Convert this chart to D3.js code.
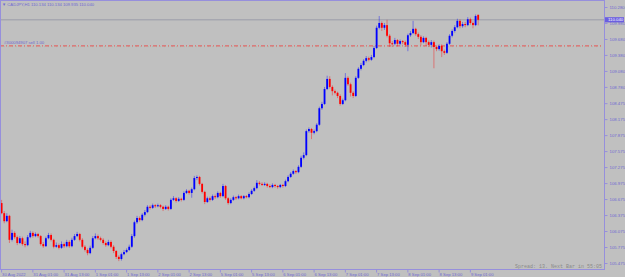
<!DOCTYPE html>
<html lang="en">
<head>
<meta charset="UTF-8">
<title>CADJPY,H1</title>
<style>
  * { margin: 0; padding: 0; }
  body { background: #c0c0c0; }
  svg { display: block; background: #c0c0c0; }
  text { font-family: "Liberation Sans", Arial, sans-serif; }
</style>
<script src="https://cdn.jsdelivr.net/npm/d3@7/dist/d3.min.js"></script>
</head>
<body>
<div id="chart"></div>
<script>
// CADJPY H1, 30 Aug 2022 13:00 .. 9 Sep 2022
var opens = [106.60,106.41,106.26,106.36,105.91,106.04,105.96,105.85,105.94,105.83,
  105.81,105.96,106.04,105.98,106.02,105.98,105.83,105.79,105.94,106.00,
  105.91,105.78,105.81,105.76,105.83,105.79,105.87,105.79,105.91,105.98,
  106.02,105.91,105.78,105.72,105.66,105.76,105.94,105.98,105.94,105.91,
  105.85,105.81,105.87,105.78,105.70,105.59,105.55,105.64,105.68,105.72,
  105.78,105.98,106.24,106.32,106.28,106.38,106.43,106.53,106.51,106.56,
  106.54,106.56,106.53,106.49,106.53,106.49,106.66,106.69,106.64,106.68,
  106.66,106.79,106.83,106.79,106.86,107.07,107.09,106.96,106.81,106.62,
  106.69,106.66,106.73,106.71,106.79,106.73,106.92,106.69,106.60,106.66,
  106.71,106.69,106.73,106.69,106.73,106.71,106.77,106.83,106.88,106.98,
  106.96,106.94,106.96,106.92,106.90,106.94,106.92,106.90,106.94,106.92,
  107.01,107.09,107.15,107.20,107.18,107.28,107.45,107.50,107.95,107.99,
  107.92,107.95,108.07,108.38,108.46,108.74,108.93,108.78,108.70,108.67,
  108.61,108.46,108.53,108.95,108.83,108.67,108.61,108.95,109.12,109.19,
  109.27,109.32,109.29,109.34,109.51,109.89,109.98,109.89,109.94,109.74,
  109.60,109.59,109.66,109.59,109.64,109.62,109.57,109.75,109.79,109.87,
  109.77,109.72,109.62,109.70,109.62,109.57,109.62,109.53,109.49,109.55,
  109.45,109.42,109.59,109.74,109.83,109.90,110.02,109.92,109.96,109.94,
  110.05,109.98,109.94,110.134];
var closes = [106.41,106.26,106.36,105.91,106.04,105.96,105.85,105.94,105.83,105.81,
  105.96,106.04,105.98,106.02,105.98,105.83,105.79,105.94,106.00,105.91,
  105.78,105.81,105.76,105.83,105.79,105.87,105.79,105.91,105.98,106.02,
  105.91,105.78,105.72,105.66,105.76,105.94,105.98,105.94,105.91,105.85,
  105.81,105.87,105.78,105.70,105.59,105.55,105.64,105.68,105.72,105.78,
  105.98,106.24,106.32,106.28,106.38,106.43,106.53,106.51,106.56,106.54,
  106.56,106.53,106.49,106.53,106.49,106.66,106.69,106.64,106.68,106.66,
  106.79,106.83,106.79,106.86,107.07,107.09,106.96,106.81,106.62,106.69,
  106.66,106.73,106.71,106.79,106.73,106.92,106.69,106.60,106.66,106.71,
  106.69,106.73,106.69,106.73,106.71,106.77,106.83,106.88,106.98,106.96,
  106.94,106.96,106.92,106.90,106.94,106.92,106.90,106.94,106.92,107.01,
  107.09,107.15,107.20,107.18,107.28,107.45,107.50,107.95,107.99,107.92,
  107.95,108.07,108.38,108.46,108.74,108.93,108.78,108.70,108.67,108.61,
  108.46,108.53,108.95,108.83,108.67,108.61,108.95,109.12,109.19,109.27,
  109.32,109.29,109.34,109.51,109.89,109.98,109.89,109.94,109.74,109.60,
  109.59,109.66,109.59,109.64,109.62,109.57,109.75,109.79,109.87,109.77,
  109.72,109.62,109.70,109.62,109.57,109.62,109.53,109.49,109.55,109.45,
  109.42,109.59,109.74,109.83,109.90,110.02,109.92,109.96,109.94,110.05,
  109.98,109.94,110.11,110.040];
var highs = [106.66,106.45,106.41,106.38,106.10,106.07,105.99,105.98,105.97,105.88,
  106.00,106.08,106.07,106.05,106.04,106.00,105.87,105.97,106.04,106.03,
  105.93,105.86,105.84,105.88,105.86,105.91,105.90,105.95,106.02,106.06,
  106.04,105.94,105.81,105.75,105.80,105.98,106.03,106.01,105.97,105.94,
  105.88,105.91,105.90,105.81,105.72,105.62,105.67,105.72,105.75,105.82,
  106.02,106.27,106.36,106.35,106.41,106.47,106.56,106.56,106.59,106.58,
  106.59,106.58,106.55,106.56,106.55,106.69,106.73,106.71,106.71,106.70,
  106.82,106.86,106.85,106.89,107.11,107.12,107.11,106.98,106.83,106.72,
  106.72,106.76,106.76,106.82,106.81,106.96,106.94,106.71,106.69,106.74,
  106.73,106.76,106.75,106.75,106.75,106.80,106.86,106.91,107.03,107.01,
  106.99,106.99,106.98,106.95,106.97,106.96,106.94,106.96,106.96,107.04,
  107.12,107.18,107.23,107.22,107.31,107.49,107.55,107.98,108.02,108.01,
  107.98,108.10,108.41,108.50,108.78,108.99,108.98,108.81,108.73,108.69,
  108.64,108.56,109.04,108.98,108.86,108.70,108.98,109.15,109.23,109.30,
  109.36,109.35,109.38,109.55,109.93,110.11,110.01,109.98,110.04,109.77,
  109.64,109.70,109.68,109.67,109.66,109.65,109.78,109.83,110.02,109.89,
  109.80,109.75,109.73,109.72,109.65,109.66,109.65,109.56,109.58,109.58,
  109.48,109.62,109.77,109.86,109.94,110.06,110.05,110.00,110.00,110.09,
  110.08,110.01,110.14,110.134];
var lows = [106.39,106.22,106.24,105.85,105.88,105.93,105.81,105.83,105.80,105.77,
  105.79,105.94,105.95,105.96,105.95,105.80,105.76,105.78,105.92,105.88,
  105.75,105.76,105.73,105.74,105.76,105.77,105.76,105.77,105.89,105.96,
  105.88,105.75,105.69,105.62,105.64,105.74,105.92,105.91,105.88,105.82,
  105.78,105.79,105.75,105.66,105.55,105.51,105.52,105.62,105.66,105.70,
  105.76,105.95,106.21,106.25,106.26,106.35,106.41,106.48,106.49,106.51,
  106.52,106.50,106.45,106.47,106.46,106.47,106.64,106.61,106.62,106.63,
  106.64,106.77,106.76,106.70,106.84,107.03,106.93,106.78,106.58,106.60,
  106.63,106.64,106.68,106.69,106.70,106.71,106.66,106.57,106.58,106.64,
  106.66,106.67,106.67,106.67,106.69,106.69,106.75,106.81,106.86,106.93,
  106.92,106.92,106.89,106.88,106.88,106.89,106.87,106.88,106.89,106.90,
  106.99,107.07,107.13,107.15,107.16,107.26,107.42,107.48,107.92,107.80,
  107.89,107.93,108.05,108.35,108.44,108.72,108.75,108.62,108.64,108.57,
  108.43,108.44,108.51,108.80,108.60,108.57,108.59,108.93,109.09,109.17,
  109.24,109.26,109.27,109.32,109.49,109.86,109.83,109.85,109.71,109.53,
  109.53,109.56,109.54,109.56,109.58,109.53,109.45,109.72,109.77,109.74,
  109.68,109.56,109.60,109.55,109.53,109.52,109.13,109.45,109.46,109.34,
  109.38,109.40,109.57,109.71,109.80,109.88,109.88,109.89,109.90,109.92,
  109.95,109.88,109.92,109.935];

// bar index -> time label
var xTickIndex = [0,12,24,36,48,60,72,84,96,108,120,132,144,156,168,180];
var xTickLabels = ["30 Aug 2022","31 Aug 01:00","31 Aug 13:00","1 Sep 01:00","1 Sep 13:00",
  "2 Sep 01:00","2 Sep 13:00","5 Sep 01:00","5 Sep 13:00","6 Sep 01:00","6 Sep 13:00",
  "7 Sep 01:00","7 Sep 13:00","8 Sep 01:00","8 Sep 13:00","9 Sep 01:00"];

var yTicks = [110.280,109.980,109.680,109.380,109.080,108.780,108.475,108.175,107.875,
  107.575,107.275,106.975,106.675,106.375,106.075,105.775,105.475];
var yTickLabels = ["110.280","109.980","109.680","109.380","109.080","108.780","108.475","108.175",
  "107.875","107.575","107.275","106.975","106.675","106.375","106.075","105.775","105.475"];

var symbolTitle = "CADJPY,H1  110.134 110.134 109.935 110.040";
var bidPrice = 110.040;
var orderPrice = 109.55;
var orderLabel = "#300094907 sell 1.00";
var statusText = "Spread: 13. Next Bar in 55:05";

var w = 625, h = 277,
    plotRight = 604, plotBottom = 269,
    step = 2.6,
    axisCol = '#968fdc',
    labelCol = '#6f68d2';

var svg = d3.select('#chart').append('svg')
    .attr('width', w)
    .attr('height', h);

var n = closes.length;
var xScale = d3.scaleBand()
    .domain(d3.range(n))
    .range([0.7, 0.7 + n * step])
    .paddingInner(0.3);

var yScale = d3.scaleLinear()
    .domain([105.475, 110.280])
    .range([263, 7]);

// bid line
svg.append('line')
    .attr('x1', 0).attr('x2', plotRight)
    .attr('y1', yScale(bidPrice)).attr('y2', yScale(bidPrice))
    .attr('stroke', '#a6a7b0')
    .attr('stroke-width', 1.5);

// order line (faint green under red dash-dot)
svg.append('line')
    .attr('x1', 0).attr('x2', 601)
    .attr('y1', yScale(orderPrice) + 0.8).attr('y2', yScale(orderPrice) + 0.8)
    .attr('stroke', '#7fbf7f')
    .attr('stroke-opacity', 0.3)
    .attr('stroke-dasharray', '1,3');
svg.append('line')
    .attr('x1', 0).attr('x2', 601)
    .attr('y1', yScale(orderPrice)).attr('y2', yScale(orderPrice))
    .attr('stroke', '#f04040')
    .attr('stroke-opacity', 0.85)
    .attr('stroke-dasharray', '4,2,1,2');
svg.append('text')
    .attr('x', 4).attr('y', yScale(orderPrice) - 1.5)
    .text(orderLabel)
    .style('font-size', '4.2px')
    .attr('fill', labelCol);

// candles
var idx = d3.range(n);
var candle = svg.append('g').selectAll('g')
    .data(idx)
    .enter()
    .append('g');

candle.append('line')
    .attr('x1', (i) => xScale(i) + xScale.bandwidth() / 2)
    .attr('x2', (i) => xScale(i) + xScale.bandwidth() / 2)
    .attr('y1', (i) => yScale(highs[i]))
    .attr('y2', (i) => yScale(lows[i]))
    .attr('stroke', (i) => closes[i] >= opens[i] ? '#0000ff' : '#ff0000')
    .attr('stroke-opacity', 0.4)
    .attr('stroke-width', 1);

candle.append('rect')
    .attr('x', (i) => xScale(i))
    .attr('width', xScale.bandwidth())
    .attr('y', (i) => yScale(Math.max(opens[i], closes[i])))
    .attr('height', (i) => Math.max(1, Math.abs(yScale(opens[i]) - yScale(closes[i]))))
    .attr('fill', (i) => closes[i] >= opens[i] ? '#0000ff' : '#ff0000');

// frame
svg.append('rect')
    .attr('x', 0.5).attr('y', 0.5)
    .attr('width', plotRight).attr('height', plotBottom)
    .attr('fill', 'none')
    .attr('stroke', axisCol);

// y axis on the right
var yAxis = d3.axisRight(yScale)
    .tickValues(yTicks)
    .tickSize(3)
    .tickPadding(2)
    .tickFormat((d, i) => yTickLabels[i]);
var yg = svg.append('g')
    .attr('transform', 'translate(' + (plotRight + 0.5) + ',0)')
    .call(yAxis);
yg.select('.domain').remove();
yg.selectAll('line').attr('stroke', axisCol);
yg.selectAll('text').attr('fill', labelCol).style('font-size', '4.3px');

// x axis at the bottom
var xAxis = d3.axisBottom(xScale)
    .tickValues(xTickIndex)
    .tickSize(3)
    .tickPadding(1)
    .tickFormat((d, i) => xTickLabels[i]);
var xg = svg.append('g')
    .attr('transform', 'translate(0,' + (plotBottom + 0.5) + ')')
    .call(xAxis);
xg.select('.domain').remove();
xg.selectAll('line').attr('stroke', axisCol);
xg.selectAll('text')
    .attr('fill', labelCol)
    .attr('text-anchor', 'start')
    .attr('dx', 0.5)
    .style('font-size', '4.2px');

// bid price box
svg.append('rect')
    .attr('x', plotRight + 1).attr('y', yScale(bidPrice) - 2.6)
    .attr('width', 19).attr('height', 5.2)
    .attr('fill', '#6a5ee0');
svg.append('text')
    .attr('x', plotRight + 4).attr('y', yScale(bidPrice) + 1.5)
    .text(bidPrice.toFixed(3))
    .style('font-size', '4.3px')
    .attr('fill', '#ffffff');

// title
svg.append('text')
    .attr('x', 2).attr('y', 6)
    .text('\u25BC ' + symbolTitle)
    .style('font-size', '4.2px')
    .attr('fill', labelCol);

// status
svg.append('text')
    .attr('x', 602).attr('y', 267.5)
    .attr('text-anchor', 'end')
    .text(statusText)
    .style('font-family', '"Liberation Mono", monospace')
    .style('font-size', '5px')
    .attr('fill', '#8a8a8a');
</script>
</body>
</html>
